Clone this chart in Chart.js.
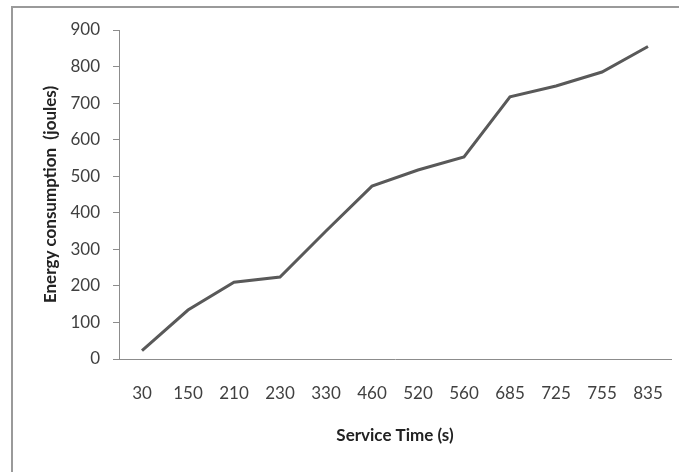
<!DOCTYPE html>
<html>
<head>
<meta charset="utf-8">
<script src="https://cdn.jsdelivr.net/npm/chart.js@4"></script>
<style>
html, body { margin:0; padding:0; background:#fff; }
#wrap { position:relative; width:679px; height:472px; overflow:hidden; }
#frame { position:absolute; left:11px; top:6px; width:700px; height:500px; border:2px solid #9a9a9a; box-sizing:border-box; }
canvas { position:absolute; left:0; top:0; }
</style>
</head>
<body>
<div id="wrap">
  <div id="frame"></div>
  <canvas id="energy_chart" width="679" height="472"></canvas>
</div>
<script>
// service time categories and energy values
let service_time = ['30', '150', '210', '230', '330', '460', '520', '560', '685', '725', '755', '835'];
let energy = [23, 134, 210, 224, 350, 473, 517, 553, 717, 747, 785, 855];
let y_ticks = [0, 100, 200, 300, 400, 500, 600, 700, 800, 900];

let ctx = document.getElementById('energy_chart');
let myChart = new Chart(ctx, {
    type: 'line',
    data: {
        labels: service_time,
        datasets: [{
            label: 'Energy consumption',
            data: energy,
            borderColor: '#595959',
            borderWidth: 3,
            pointRadius: 0,
            fill: false,
            tension: 0
        }]
    },
    options: {
        responsive: false,
        animation: false,
        layout: { padding: { left: 40, right: 8, top: 30, bottom: 26 } },
        plugins: { legend: { display: false }, tooltip: { enabled: false } },
        scales: {
            x: {
                offset: true,
                // tick marks hidden, tickLength only pushes the labels down
                grid: { display: false, drawTicks: true, tickLength: 24 },
                border: { display: true, color: '#8c8c8c', width: 1 },
                ticks: { color: '#404040', padding: 0, maxRotation: 0, autoSkip: false,
                         font: { family: 'Lato', size: 17 } },
                title: { display: true, text: 'Service Time (s)', color: '#222',
                         font: { family: 'Lato', size: 17, weight: 'bold' }, padding: 0 },
                afterFit: (s) => { s.height = 87; }
            },
            y: {
                min: y_ticks[0],
                max: y_ticks[y_ticks.length - 1],
                afterBuildTicks: (s) => { s.ticks = y_ticks.map((v) => ({value: v})); },
                grid: { drawOnChartArea: false, drawTicks: true, tickLength: 6, color: '#8c8c8c' },
                border: { display: true, color: '#8c8c8c', width: 1 },
                ticks: { color: '#404040', padding: 13, font: { family: 'Lato', size: 17 } },
                title: { display: true, text: 'Energy consumption  (joules)', color: '#222',
                         font: { family: 'Lato', size: 17, weight: 'bold' }, padding: 0 },
                afterFit: (s) => { s.width = 79; }
            }
        }
    }
});
</script>
</body>
</html>
